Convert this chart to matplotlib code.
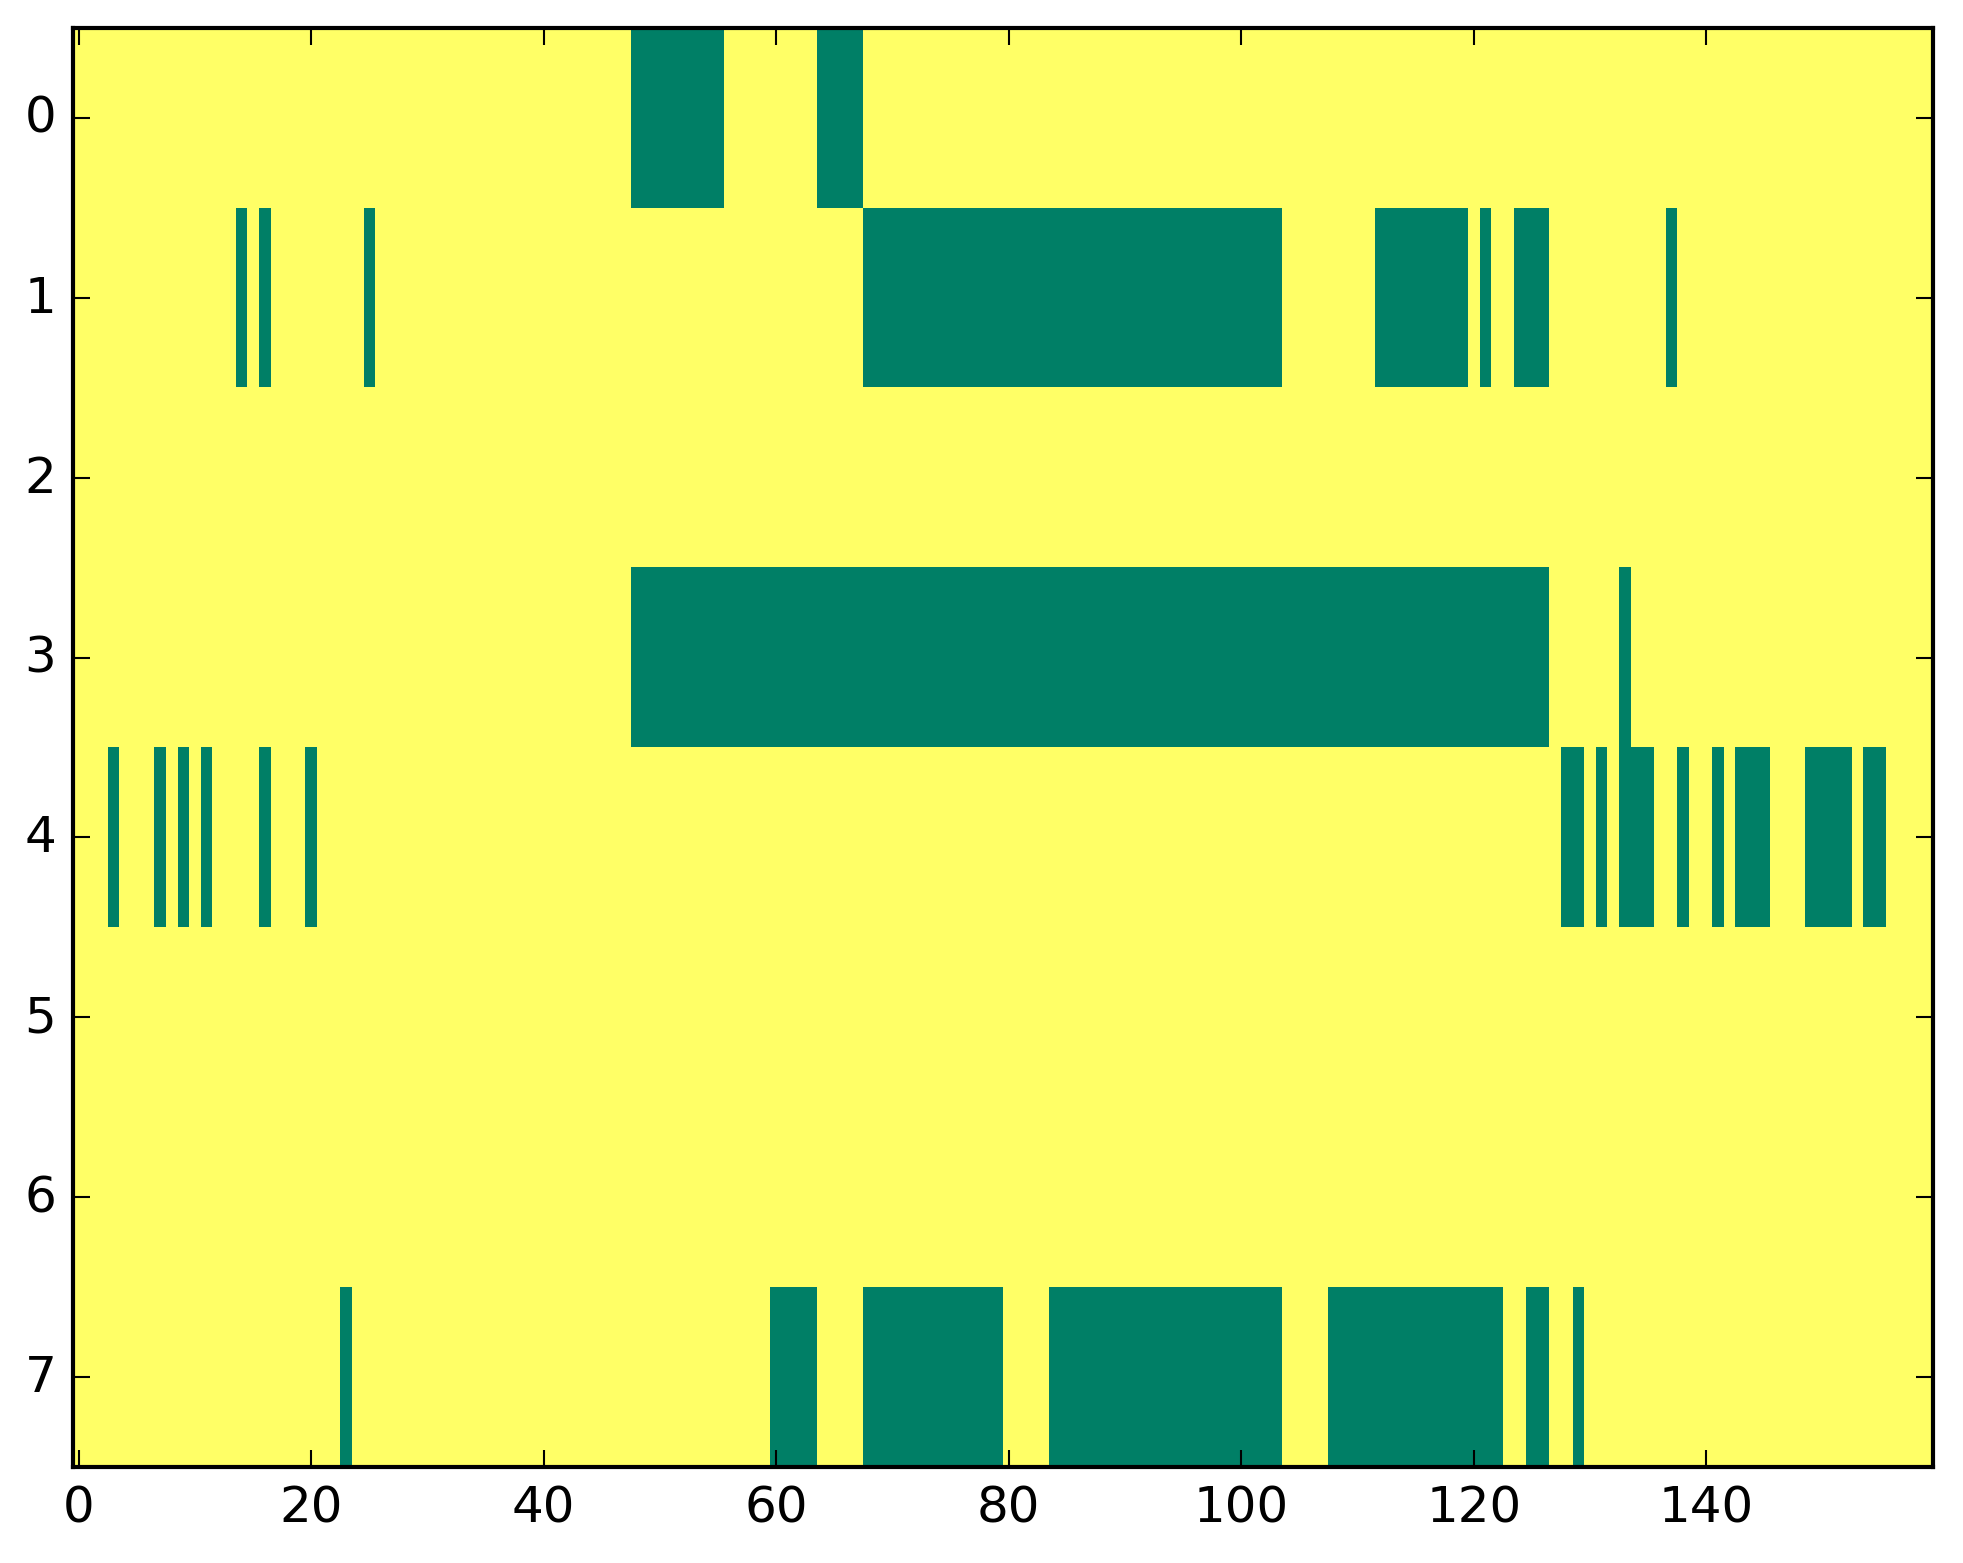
import numpy as np
import matplotlib
matplotlib.use("Agg")
import matplotlib.pyplot as plt

# ================= DADOS =================
# runs (inicio, fim) de celulas ativas em cada linha, colunas inclusivas
N_ROWS, N_COLS = 8, 160
row0 = [(48, 55), (64, 67)]
row1 = [(14, 14), (16, 16), (25, 25), (68, 103), (112, 119), (121, 121),
        (124, 126), (137, 137)]
row2 = []
row3 = [(48, 126), (133, 133)]
row4 = [(3, 3), (7, 7), (9, 9), (11, 11), (16, 16), (20, 20), (128, 129),
        (131, 131), (133, 135), (138, 138), (141, 141), (143, 145),
        (149, 152), (154, 155)]
row5 = []
row6 = []
row7 = [(23, 23), (60, 63), (68, 79), (84, 103), (108, 122), (125, 126),
        (129, 129)]
runs = [row0, row1, row2, row3, row4, row5, row6, row7]

grid = np.zeros((N_ROWS, N_COLS))
for r, row_runs in enumerate(runs):
    for a, b in row_runs:
        grid[r, a:b + 1] = 1

# ================= FIGURA =================
plt.style.use("classic")
W, H, DPI = 1963, 1564, 300
fig = plt.figure(figsize=(W / DPI, H / DPI), dpi=DPI)
ax = fig.add_axes([73 / W, (H - 1468) / H, 1860 / W, 1439 / H])
ax.imshow(grid, cmap="summer_r", vmin=0, vmax=1, aspect="auto",
          interpolation="nearest")
ax.set_xlim(-0.5, N_COLS - 0.5)
ax.set_ylim(N_ROWS - 0.5, -0.5)
ax.set_xticks(np.arange(0, 141, 20))
ax.set_yticks(np.arange(0, N_ROWS))

fig.savefig("out.png", dpi=DPI)
